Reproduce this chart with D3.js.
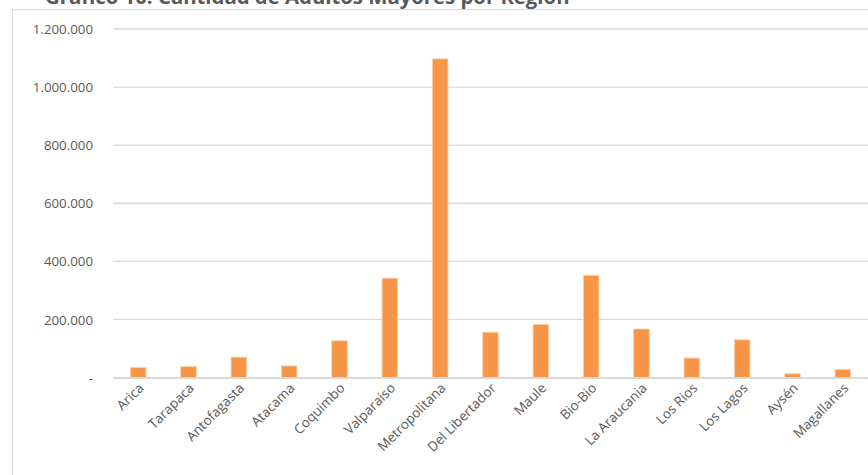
<!DOCTYPE html>
<html>
<head>
<meta charset="utf-8">
<script src="https://cdn.jsdelivr.net/npm/d3@7"></script>
<style>
  html, body { margin: 0; padding: 0; background: #fff; }
  svg { display: block; }
  text { font-family: "Open Sans", "Noto Sans", sans-serif; }
</style>
</head>
<body>
<svg id="chart" width="868" height="475"></svg>
<script>
const title = "Gráfico 10: Cantidad de Adultos Mayores por Región";
const categories = ["Arica", "Tarapaca", "Antofagasta", "Atacama", "Coquimbo", "Valparaiso",
  "Metropolitana", "Del Libertador", "Maule", "Bio-Bio", "La Araucania", "Los Rios",
  "Los Lagos", "Aysén", "Magallanes"];
const values = [34500, 38000, 70000, 40000, 126500, 342000, 1097000, 156000, 183000,
  352000, 167000, 67000, 130000, 13000, 27500];
const yTicks = [0, 200000, 400000, 600000, 800000, 1000000, 1200000];

const svg = d3.select("#chart");
const W = 868, H = 475;
const margin = { left: 113, right: 0, top: 29, bottom: 97 };

// chart border
svg.append("rect")
  .attr("x", 12.5).attr("y", 9.5)
  .attr("width", W + 20).attr("height", H + 20)
  .attr("fill", "none").attr("stroke", "#D9D9D9").attr("stroke-width", 1);

// title (partially cut off at top, as in the reference)
const t = svg.append("text")
  .attr("x", 45).attr("y", 4)
  .attr("fill", "#595959")
  .attr("font-weight", "bold")
  .attr("font-size", 18)
  .text(title);
const tw = t.node().getComputedTextLength();
t.attr("font-size", 18 * 525 / tw);

const x = d3.scaleBand()
  .domain(categories)
  .range([margin.left, W - margin.right])
  .paddingInner(0.69).paddingOuter(0.345);

const y = d3.scaleLinear()
  .domain([0, 1200000])
  .range([H - margin.bottom - 0.5, margin.top]);

const fmt = v => v === 0 ? "-" : d3.formatLocale({ decimal: ",", thousands: ".", grouping: [3], currency: ["", ""] }).format(",.0f")(v);

// gridlines
svg.append("g").selectAll("line.grid")
  .data(yTicks.filter(d => d > 0))
  .join("line")
  .attr("class", "grid")
  .attr("x1", margin.left).attr("x2", W)
  .attr("y1", d => y(d)).attr("y2", d => y(d))
  .attr("stroke", "#D9D9D9").attr("stroke-width", 1.3);

const yAxis = d3.axisLeft(y).tickValues(yTicks).tickFormat(fmt).tickSize(0).tickPadding(0);
const ga = svg.append("g").attr("transform", `translate(${margin.left - 20},0)`).call(yAxis);
ga.select(".domain").remove();
ga.selectAll("text")
  .attr("fill", "#595959")
  .attr("font-size", 13.3)
  .attr("font-family", "'Open Sans', sans-serif")
  .attr("dy", "0.35em");

// bars
svg.append("g").selectAll("rect")
  .data(values)
  .join("rect")
  .attr("x", (d, i) => x(categories[i]))
  .attr("width", x.bandwidth())
  .attr("y", d => y(d))
  .attr("height", d => y(0) - y(d))
  .attr("fill", "#F79646")
  .attr("stroke", "#FBD3B0")
  .attr("stroke-width", 0.8);

// baseline
svg.append("line")
  .attr("x1", margin.left).attr("x2", W)
  .attr("y1", y(0) + 0.5).attr("y2", y(0) + 0.5)
  .attr("stroke", "#D9D9D9").attr("stroke-width", 2);

// x labels
const xAxis = d3.axisBottom(x).tickSize(0).tickPadding(0);
const gx = svg.append("g").attr("transform", `translate(0,${y(0) + 8})`).call(xAxis);
gx.select(".domain").remove();
gx.selectAll("text")
  .attr("fill", "#595959")
  .attr("font-size", 13.5)
  .attr("font-family", "'Open Sans', sans-serif")
  .attr("text-anchor", "end")
  .attr("dy", "0.35em")
  .attr("transform", "translate(3,0) rotate(-45)");
</script>
</body>
</html>
